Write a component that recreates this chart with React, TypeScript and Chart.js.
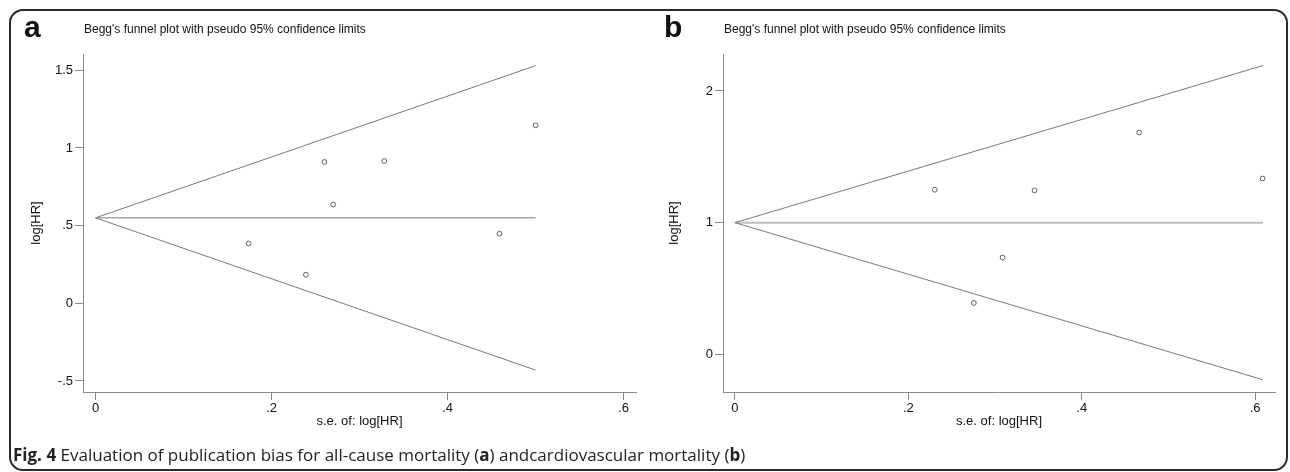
import React, { useEffect, useRef } from 'react';
import { Chart, registerables } from 'chart.js';
Chart.register(...registerables);

// ---------- Data: panel a (all-cause mortality) ----------
const seA = [0.174, 0.239, 0.26, 0.27, 0.328, 0.459, 0.5];
const logHrA = [0.385, 0.184, 0.91, 0.636, 0.916, 0.448, 1.146];
const funnelSeA = [0, 0.5];
const funnelUpperA = [0.55, 1.53];
const funnelLowerA = [0.55, -0.43];
const pooledA = [0.55, 0.55];
const xTicksA = [0, 0.2, 0.4, 0.6];
const yTicksA = [-0.5, 0, 0.5, 1, 1.5];

// ---------- Data: panel b (cardiovascular mortality) ----------
const seB = [0.2305, 0.2756, 0.3087, 0.3456, 0.4663, 0.6087];
const logHrB = [1.25, 0.39, 0.735, 1.245, 1.685, 1.335];
const funnelSeB = [0, 0.609];
const funnelUpperB = [1.0, 2.193];
const funnelLowerB = [1.0, -0.193];
const pooledB = [1.0, 1.0];
const xTicksB = [0, 0.2, 0.4, 0.6];
const yTicksB = [0, 1, 2];

const plotTitle = "Begg's funnel plot with pseudo 95% confidence limits";
const xTitle = 's.e. of: log[HR]';
const yTitle = 'log[HR]';

const fmt = (v: number) => {
  const s = String(Math.round(v * 100) / 100);
  return s.replace(/^(-?)0\./, '$1.');
};

const toPts = (xs: number[], ys: number[]) => xs.map((x, i) => ({ x, y: ys[i] }));

interface PanelCfg {
  se: number[];
  lhr: number[];
  fse: number[];
  up: number[];
  lo: number[];
  pooled: number[];
  xTicks: number[];
  yTicks: number[];
  xMin: number;
  xMax: number;
  yMin: number;
  yMax: number;
  yAxisWidth: number;
  padRight: number;
  yTitlePad: number;
  pooledWidth: number;
  pooledColor: string;
}

const AXIS = '#8a8a8a';
const LINE = '#7a7a7a';
const FONT = "'Liberation Sans', Arial, sans-serif";

function FunnelChart({ cfg, width, height }: { cfg: PanelCfg; width: number; height: number }) {
  const ref = useRef<HTMLCanvasElement>(null);
  useEffect(() => {
    if (!ref.current) return;
    const lineDs = (ys: number[], color: string, w: number) => ({
      type: 'line' as const,
      data: toPts(cfg.fse, ys),
      showLine: true,
      borderColor: color,
      borderWidth: w,
      pointRadius: 0,
      fill: false,
      tension: 0,
    });
    const chart = new Chart(ref.current, {
      type: 'scatter',
      data: {
        datasets: [
          lineDs(cfg.up, LINE, 1),
          lineDs(cfg.lo, LINE, 1),
          lineDs(cfg.pooled, cfg.pooledColor, cfg.pooledWidth),
          {
            type: 'scatter' as const,
            data: toPts(cfg.se, cfg.lhr),
            pointStyle: 'circle',
            pointRadius: 2.4,
            borderColor: '#5f5f5f',
            backgroundColor: 'rgba(255,255,255,0)',
            borderWidth: 1,
          } as any,
        ],
      },
      options: {
        animation: false,
        responsive: false,
        maintainAspectRatio: false,
        layout: { padding: { top: 54, left: 0, right: cfg.padRight, bottom: 0 } },
        plugins: { legend: { display: false }, tooltip: { enabled: false }, title: { display: false } },
        scales: {
          x: {
            type: 'linear',
            min: cfg.xMin,
            max: cfg.xMax,
            afterBuildTicks: (s: any) => {
              s.ticks = cfg.xTicks.map((v) => ({ value: v }));
            },
            afterFit: (s: any) => {
              s.height = 80;
            },
            border: { display: true, color: AXIS, width: 1 },
            grid: { display: true, drawOnChartArea: false, drawTicks: true, tickLength: 8, color: AXIS, lineWidth: 1 },
            ticks: {
              color: '#111',
              font: { family: FONT, size: 13 },
              padding: 1,
              maxRotation: 0,
              autoSkip: false,
              callback: (v: any) => fmt(Number(v)),
            },
            title: {
              display: true,
              text: xTitle,
              color: '#111',
              font: { family: FONT, size: 13 },
              padding: { top: 0, bottom: 43 },
            },
          },
          y: {
            type: 'linear',
            min: cfg.yMin,
            max: cfg.yMax,
            afterBuildTicks: (s: any) => {
              s.ticks = cfg.yTicks.map((v) => ({ value: v }));
            },
            afterFit: (s: any) => {
              s.width = cfg.yAxisWidth;
            },
            border: { display: true, color: AXIS, width: 1 },
            grid: { display: true, drawOnChartArea: false, drawTicks: true, tickLength: 8, color: AXIS, lineWidth: 1 },
            ticks: {
              color: '#111',
              font: { family: FONT, size: 13 },
              padding: 2,
              autoSkip: false,
              callback: (v: any) => fmt(Number(v)),
            },
            title: {
              display: true,
              text: yTitle,
              color: '#111',
              font: { family: FONT, size: 13 },
              padding: { top: cfg.yTitlePad, bottom: 0 },
            },
          },
        },
      },
    });
    return () => chart.destroy();
  }, [cfg, width, height]);
  return <canvas ref={ref} width={width} height={height} style={{ width, height, display: 'block' }} />;
}

const cfgA: PanelCfg = {
  se: seA,
  lhr: logHrA,
  fse: funnelSeA,
  up: funnelUpperA,
  lo: funnelLowerA,
  pooled: pooledA,
  xTicks: xTicksA,
  yTicks: yTicksA,
  xMin: -0.0142,
  xMax: 0.614,
  yMin: -0.571,
  yMax: 1.605,
  yAxisWidth: 83,
  padRight: 9,
  yTitlePad: 29,
  pooledWidth: 1,
  pooledColor: LINE,
};

const cfgB: PanelCfg = {
  se: seB,
  lhr: logHrB,
  fse: funnelSeB,
  up: funnelUpperB,
  lo: funnelLowerB,
  pooled: pooledB,
  xTicks: xTicksB,
  yTicks: yTicksB,
  xMin: -0.0138,
  xMax: 0.623,
  yMin: -0.286,
  yMax: 2.281,
  yAxisWidth: 78,
  padRight: 15,
  yTitlePad: 22,
  pooledWidth: 2,
  pooledColor: '#bdbdbd',
};

export default function App() {
  const letter: React.CSSProperties = {
    position: 'absolute',
    fontFamily: FONT,
    fontWeight: 'bold',
    fontSize: 30,
    lineHeight: '30px',
    color: '#111',
  };
  const title: React.CSSProperties = {
    position: 'absolute',
    fontFamily: FONT,
    fontSize: 12,
    lineHeight: '14px',
    color: '#111',
    whiteSpace: 'nowrap',
  };
  return (
    <div style={{ position: 'fixed', left: 0, top: 0, width: 1290, height: 472, background: '#fff', overflow: 'hidden' }}>
      <div
        style={{
          position: 'absolute',
          left: 9,
          top: 9,
          width: 1279,
          height: 462,
          boxSizing: 'border-box',
          border: '2px solid #2a2a2a',
          borderRadius: 14,
        }}
      />
      <div style={{ position: 'absolute', left: 0, top: 0 }}>
        <FunnelChart cfg={cfgA} width={645} height={472} />
      </div>
      <div style={{ position: 'absolute', left: 645, top: 0 }}>
        <FunnelChart cfg={cfgB} width={645} height={472} />
      </div>
      <div style={{ ...letter, left: 24, top: 12 }}>a</div>
      <div style={{ ...letter, left: 664, top: 12 }}>b</div>
      <div style={{ ...title, left: 84, top: 22 }}>{plotTitle}</div>
      <div style={{ ...title, left: 724, top: 22 }}>{plotTitle}</div>
      <div
        style={{
          position: 'absolute',
          left: 13,
          top: 445,
          fontFamily: "'Liberation Sans Narrow', 'Open Sans', sans-serif",
          fontSize: 17,
          lineHeight: '20px',
          color: '#222',
          whiteSpace: 'nowrap',
        }}
      >
        <b>Fig. 4</b> Evaluation of publication bias for all-cause mortality (<b>a</b>) andcardiovascular mortality (<b>b</b>)
      </div>
    </div>
  );
}
